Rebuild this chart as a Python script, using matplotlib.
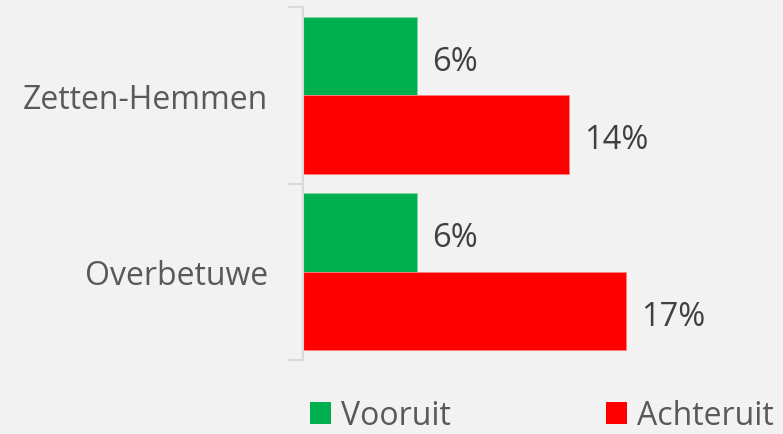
import numpy as np
import matplotlib.pyplot as plt
from matplotlib.patches import Patch

# -----------------------------------
# Data
# -----------------------------------
categories = ["Zetten-Hemmen", "Overbetuwe"]
vooruit = [6, 6]
achteruit = [14, 17]
series_names = ["Vooruit", "Achteruit"]

GREEN = "#00b050"
RED = "#ff0000"
BG = "#f2f2f2"
TEXT = "#595959"

plt.rcParams["font.family"] = ["Open Sans", "DejaVu Sans"]

# -----------------------------------
# Figure
# -----------------------------------
fig = plt.figure(figsize=(7.83, 4.35), dpi=100, facecolor=BG)
W, H = 783, 435
ax = fig.add_axes([303 / W, 1 - 361 / H, 380 / W, (361 - 8) / H])
ax.set_facecolor(BG)

y = np.arange(len(categories))
bar_h = 0.446

ax.barh(y - bar_h / 2, vooruit, height=bar_h, color=GREEN,
        edgecolor="#7fd7a7", linewidth=0.6)
ax.barh(y + bar_h / 2, achteruit, height=bar_h, color=RED,
        edgecolor="#ff8080", linewidth=0.6)

# value labels, nudged a little below centre like the original
dy = 0.03
for i in range(len(categories)):
    ax.text(vooruit[i] + 0.8, y[i] - bar_h / 2 + dy, f"{vooruit[i]}%",
            va="center", ha="left", fontsize=23.5, color="#404040")
    ax.text(achteruit[i] + 0.8, y[i] + bar_h / 2 + dy, f"{achteruit[i]}%",
            va="center", ha="left", fontsize=23.5, color="#404040")

ax.set_xlim(0, 20)
ax.set_ylim(len(categories) - 0.5, -0.5)

# category axis with tick marks between groups
ax.set_yticks([-0.5, 0.5, 1.5])
ax.set_yticklabels([])
ax.set_yticks(y, minor=True)
ax.set_yticklabels(categories, minor=True, fontsize=23, color=TEXT)
ax.tick_params(axis="y", which="minor", length=0, pad=25)
ax.tick_params(axis="y", which="major", length=11, width=1.5, color="#d9d9d9")
ax.set_xticks([])

for side in ["top", "right", "bottom"]:
    ax.spines[side].set_visible(False)
ax.spines["left"].set_color("#d9d9d9")
ax.spines["left"].set_linewidth(1.5)

# -----------------------------------
# Legend
# -----------------------------------
handles = [Patch(facecolor=GREEN), Patch(facecolor=RED)]
fig.legend(handles, series_names, loc="center left",
           bbox_to_anchor=(310 / W, 1 - 417 / H), ncol=2, frameon=False,
           fontsize=23, labelcolor=TEXT, handlelength=0.67,
           handleheight=0.67, handletextpad=0.3, columnspacing=4.85,
           borderpad=0, borderaxespad=0)

plt.savefig("out.png", dpi=100, facecolor=BG)
